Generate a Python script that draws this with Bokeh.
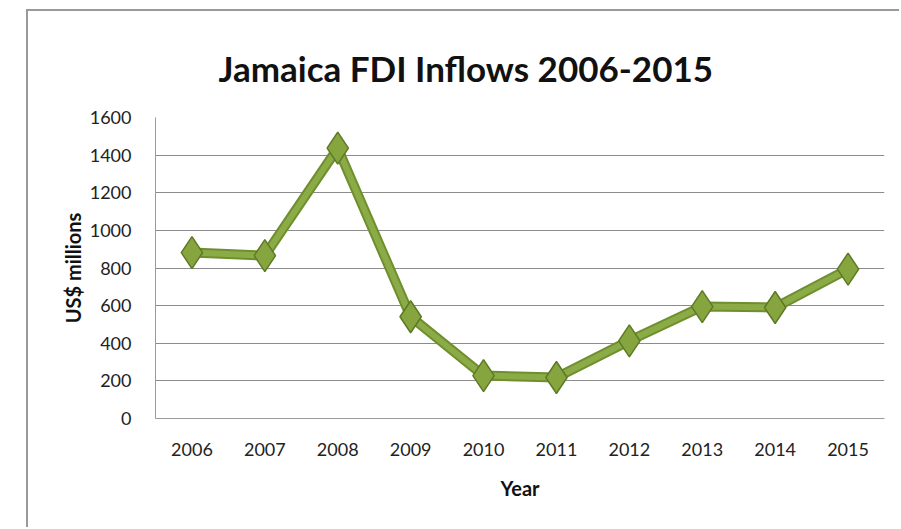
from bokeh.plotting import figure
from bokeh.embed import file_html
from bokeh.resources import INLINE
from bokeh.models import ColumnDataSource, FixedTicker

years = ["2006", "2007", "2008", "2009", "2010", "2011", "2012", "2013", "2014", "2015"]
fdi = [882, 866, 1437, 541, 228, 218, 413, 595, 590, 794]
y_ticks = [0, 200, 400, 600, 800, 1000, 1200, 1400, 1600]

src = ColumnDataSource(dict(year=years, fdi=fdi))

p = figure(width=873, height=518, x_range=years, y_range=(0, 1600),
           output_backend="svg", toolbar_location=None,
           min_border_left=127, min_border_right=17, min_border_top=106, min_border_bottom=111)
p.styles = {"margin-left": "26px", "margin-top": "9px",
            "border-left": "2px solid #9a9a9a", "border-top": "2px solid #9a9a9a"}

p.title.text = "Jamaica FDI Inflows 2006-2015"
p.title.align = "left"
p.title.offset = 63
p.title.standoff = 58
p.title.text_font = "Lato"
p.title.text_font_size = "35px"
p.title.text_font_style = "bold"
p.title.text_color = "#111111"

p.line("year", "fdi", source=src, line_color="#6f8f2f", line_width=10, line_join="round")
p.line("year", "fdi", source=src, line_color="#8aab45", line_width=6, line_join="round")
p.scatter("year", "fdi", source=src, marker="diamond", size=32,
          fill_color="#86a53f", line_color="#5d7a25", line_width=1.5)

p.yaxis.ticker = FixedTicker(ticks=y_ticks)
p.ygrid.ticker = FixedTicker(ticks=y_ticks)
p.ygrid.grid_line_color = "#8c8c8c"
p.ygrid.grid_line_width = 1
p.xgrid.grid_line_color = None
p.outline_line_color = None

for ax in (p.xaxis, p.yaxis):
    ax.major_tick_line_color = None
    ax.minor_tick_line_color = None
    ax.axis_line_color = "#9a9a9a"
    ax.major_label_text_font = "Lato"
    ax.major_label_text_font_size = "18px"
    ax.major_label_text_color = "#222222"
    ax.axis_label_text_font = "Lato"
    ax.axis_label_text_font_size = "20px"
    ax.axis_label_text_font_style = "bold"
    ax.axis_label_text_color = "#111111"

p.xaxis.axis_label = "Year"
p.yaxis.axis_label = "US$ millions"
p.xaxis.major_label_standoff = 18
p.yaxis.major_label_standoff = 18
p.xaxis.axis_label_standoff = 17
p.yaxis.axis_label_standoff = 2

open("out.html", "w").write(file_html(p, INLINE))
